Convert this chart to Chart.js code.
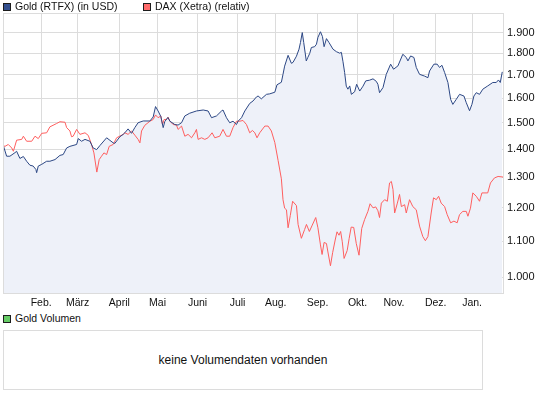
<!DOCTYPE html>
<html>
<head>
<meta charset="utf-8">
<script src="https://cdn.jsdelivr.net/npm/chart.js@4/dist/chart.umd.min.js"></script>
<style>
  html, body { margin: 0; padding: 0; background: #fff; }
  #wrap { position: relative; width: 545px; height: 398px; overflow: hidden;
          font-family: "Liberation Sans", Arial, sans-serif; color: #111; }
  #main { position: absolute; left: 0; top: 0; display: block; }
  .leg { position: absolute; font-size: 10.5px; line-height: 13px; white-space: nowrap; color: #111; }
  .sw { position: absolute; width: 6px; height: 6px; border: 1px solid #1c1c1c; }
  #vol { position: absolute; left: 3px; top: 330px; width: 478px; height: 58px;
         border: 1px solid #dcdcdc; font-size: 12px; line-height: 58px; text-align: center; color: #111; }
</style>
</head>
<body>
<div id="wrap">
  <canvas id="main" width="545" height="312"></canvas>
  <div class="sw" style="left:3px;top:3px;background:#34508f"></div>
  <div class="leg" id="leg0" style="left:15px;top:0px"></div>
  <div class="sw" style="left:143px;top:3px;background:#ff6b6b"></div>
  <div class="leg" id="leg1" style="left:155px;top:0px"></div>
  <div class="sw" style="left:3px;top:315px;background:#66cc66"></div>
  <div class="leg" id="leg2" style="left:15px;top:312px"></div>
  <div id="vol"></div>
</div>
<script>
// ---- data ----
const seriesNames = ["Gold (RTFX) (in USD)", "DAX (Xetra) (relativ)"];
const volumeName = "Gold Volumen";
const volumeMessage = "keine Volumendaten vorhanden";

// x = trading-day index (0 = first trading day of January)
const monthLabels = ["Feb.", "März", "April", "Mai", "Juni", "Juli", "Aug.", "Sep.", "Okt.", "Nov.", "Dez.", "Jan."];
const monthStarts = [21, 41, 64, 85, 107, 129, 150, 173, 195, 215, 238, 258];
const yTicks = [1000, 1100, 1200, 1300, 1400, 1500, 1600, 1700, 1800, 1900];

const goldDays = [
  0, 2.0, 3.8, 6.6, 7.5, 9.3, 11.2, 13.0, 14.8, 16.6,
  18.1, 18.5, 19.4, 21.3, 24.0, 25.8, 28.6, 31.3, 33.1, 35.0,
  36.8, 40.5, 41.4, 43.2, 45.1, 47.8, 49.6, 51.5, 53.3, 57.0,
  60.6, 61.5, 64.3, 66.1, 67.0, 68.8, 70.7, 72.5, 74.3, 77.1,
  80.8, 82.6, 83.9, 85.3, 86.8, 88.1, 89.0, 90.7, 91.8, 94.5,
  96.3, 98.2, 100.0, 102.7, 106.4, 110.1, 112.8, 114.7, 117.4, 120.2,
  121.0, 122.9, 124.7, 126.5, 128.4, 129.3, 131.2, 133.0, 135.7, 137.5,
  139.4, 140.3, 142.1, 144.9, 146.7, 149.5, 150.7, 153.1, 154.0, 154.9,
  156.8, 158.6, 159.5, 161.4, 162.8, 163.6, 164.6, 165.4, 166.8, 167.7,
  168.7, 169.6, 171.4, 172.4, 173.2, 174.6, 175.7, 176.6, 177.9, 179.3,
  181.5, 183.4, 185.2, 186.1, 187.0, 187.9, 188.8, 189.7, 190.7, 191.6,
  193.4, 194.5, 196.2, 198.0, 199.5, 201.6, 203.5, 205.3, 206.2, 207.1,
  209.0, 210.8, 213.2, 214.8, 217.2, 219.9, 221.8, 222.7, 224.2, 226.0,
  227.3, 229.1, 231.9, 233.7, 234.6, 237.0, 238.8, 240.1, 241.4, 242.9,
  244.7, 246.2, 247.4, 249.3, 251.1, 253.5, 254.8, 256.6, 257.9, 259.0,
  260.3, 262.1, 263.9, 266.6, 269.4, 271.3, 272.5, 273.5, 274.6
];
const goldValues = [
  1417, 1374, 1374, 1387, 1392, 1366, 1373, 1356, 1342, 1339,
  1327, 1316, 1339, 1345, 1356, 1356, 1362, 1377, 1380, 1404,
  1410, 1417, 1439, 1429, 1436, 1429, 1404, 1398, 1413, 1442,
  1423, 1421, 1446, 1455, 1461, 1476, 1459, 1481, 1500, 1507,
  1507, 1523, 1565, 1547, 1525, 1481, 1505, 1521, 1506, 1493,
  1491, 1500, 1527, 1538, 1547, 1551, 1547, 1520, 1527, 1547,
  1551, 1520, 1500, 1506, 1493, 1506, 1520, 1547, 1578, 1588,
  1605, 1609, 1597, 1616, 1618, 1625, 1657, 1668, 1703, 1740,
  1790, 1753, 1757, 1786, 1819, 1851, 1900, 1851, 1764, 1781,
  1799, 1827, 1831, 1843, 1876, 1904, 1880, 1831, 1870, 1851,
  1819, 1807, 1800, 1804, 1760, 1711, 1651, 1638, 1652, 1616,
  1627, 1659, 1630, 1651, 1674, 1677, 1683, 1672, 1659, 1623,
  1645, 1703, 1749, 1726, 1741, 1795, 1780, 1764, 1787, 1780,
  1734, 1703, 1695, 1688, 1718, 1749, 1749, 1734, 1744, 1711,
  1667, 1595, 1574, 1595, 1616, 1609, 1581, 1548, 1574, 1609,
  1623, 1616, 1638, 1652, 1667, 1667, 1678, 1667, 1714
];

const daxDays = [
  0, 1.1, 2.9, 4.8, 5.7, 7.5, 10.3, 11.2, 13.0, 15.8,
  17.6, 19.4, 21.3, 24.0, 25.8, 29.5, 31.3, 34.1, 35.0, 36.8,
  37.7, 38.6, 40.5, 42.3, 45.1, 46.9, 48.7, 50.0, 51.6, 52.9,
  54.2, 55.5, 57.0, 58.4, 60.6, 62.5, 66.1, 67.0, 68.8, 70.7,
  72.5, 74.3, 75.3, 76.2, 78.0, 80.8, 82.6, 83.9, 85.3, 86.8,
  87.7, 88.6, 89.9, 90.8, 91.8, 93.6, 95.4, 96.3, 98.2, 100.0,
  101.8, 103.7, 105.5, 106.4, 107.3, 109.2, 111.0, 112.8, 115.0, 116.5,
  119.2, 121.0, 122.9, 124.7, 126.5, 128.4, 130.2, 132.0, 133.9, 135.7,
  137.2, 138.5, 139.7, 141.2, 144.0, 145.8, 147.6, 149.5, 151.3, 153.1,
  154.0, 154.9, 155.9, 156.8, 158.0, 159.3, 161.4, 162.3, 164.1, 165.9,
  166.9, 168.5, 170.1, 172.0, 173.2, 174.6, 175.5, 176.6, 177.9, 178.7,
  180.1, 181.3, 182.7, 183.7, 184.8, 185.7, 186.6, 187.6, 189.3, 190.4,
  191.5, 192.9, 194.3, 195.8, 197.3, 198.9, 200.7, 201.9, 203.5, 205.0,
  206.2, 207.1, 208.1, 209.9, 211.4, 212.6, 213.6, 214.5, 215.4, 216.9,
  218.1, 219.1, 220.9, 221.8, 223.6, 225.4, 227.3, 229.1, 230.9, 232.3,
  233.7, 235.5, 236.8, 238.3, 239.6, 241.0, 242.9, 244.3, 246.2, 248.0,
  249.8, 251.1, 252.9, 254.8, 255.7, 257.1, 258.4, 260.3, 262.1, 263.4,
  266.6, 268.1, 270.3, 272.3, 275.0
];
const daxValues = [
  1413, 1410, 1417, 1404, 1392, 1433, 1436, 1448, 1429, 1429,
  1448, 1439, 1459, 1461, 1484, 1497, 1504, 1502, 1481, 1468,
  1446, 1448, 1474, 1455, 1461, 1451, 1417, 1386, 1318, 1362,
  1374, 1386, 1380, 1410, 1417, 1442, 1455, 1461, 1455, 1468,
  1452, 1436, 1423, 1468, 1490, 1506, 1513, 1531, 1520, 1527,
  1493, 1513, 1513, 1522, 1506, 1493, 1491, 1474, 1487, 1448,
  1455, 1442, 1461, 1474, 1436, 1442, 1436, 1442, 1461, 1442,
  1448, 1474, 1448, 1448, 1481, 1506, 1506, 1509, 1493, 1461,
  1470, 1461, 1442, 1461, 1487, 1487, 1468, 1424, 1359, 1295,
  1226, 1199, 1194, 1139, 1176, 1221, 1207, 1149, 1108, 1134,
  1149, 1128, 1147, 1170, 1139, 1089, 1062, 1096, 1093, 1069,
  1031, 1067, 1103, 1127, 1117, 1128, 1098, 1051, 1073, 1108,
  1141, 1140, 1093, 1060, 1137, 1164, 1189, 1213, 1200, 1203,
  1191, 1170, 1215, 1226, 1221, 1281, 1286, 1259, 1184, 1215,
  1243, 1204, 1210, 1184, 1226, 1204, 1194, 1144, 1113, 1101,
  1113, 1184, 1232, 1226, 1237, 1215, 1204, 1179, 1154, 1159,
  1154, 1179, 1189, 1189, 1174, 1199, 1248, 1237, 1221, 1248,
  1248, 1281, 1298, 1303, 1301
];

// ---- helpers ----
const toPoints = (xs, ys) => xs.map((x, i) => ({ x: x, y: ys[i] }));
const fmtDE = v => String(Math.round(v)).replace(/\B(?=(\d{3})+(?!\d))/g, '.');

document.getElementById('leg0').textContent = seriesNames[0];
document.getElementById('leg1').textContent = seriesNames[1];
document.getElementById('leg2').textContent = volumeName;
document.getElementById('vol').textContent = volumeMessage;

const GRID = '#dcdcdc';
const FONT_X = { family: '"Liberation Sans", Arial, sans-serif', size: 10.5 };
const FONT_Y = { family: '"Liberation Sans", Arial, sans-serif', size: 11 };

const framePlugin = {
  id: 'frame',
  afterDraw(chart) {
    const a = chart.chartArea, ctx = chart.ctx;
    ctx.save();
    ctx.strokeStyle = GRID;
    ctx.lineWidth = 1;
    ctx.strokeRect(a.left + 0.5, a.top + 0.5, a.right - a.left, a.bottom - a.top);
    ctx.restore();
  }
};

new Chart(document.getElementById('main'), {
  type: 'line',
  data: {
    datasets: [
      {
        label: seriesNames[0],
        data: toPoints(goldDays, goldValues),
        borderColor: '#2c4784',
        backgroundColor: '#eef1f9',
        fill: 'start',
        borderWidth: 1,
        pointRadius: 0,
        tension: 0
      },
      {
        label: seriesNames[1],
        data: toPoints(daxDays, daxValues),
        borderColor: '#ff5f5f',
        backgroundColor: '#ff6b6b',
        fill: false,
        borderWidth: 1,
        pointRadius: 0,
        tension: 0
      }
    ]
  },
  options: {
    responsive: false,
    animation: false,
    devicePixelRatio: 1,
    layout: { padding: { left: 3, top: 13, right: 0, bottom: 0 } },
    plugins: {
      legend: { display: false },
      tooltip: { enabled: false },
      filler: { drawTime: 'beforeDatasetsDraw' }
    },
    scales: {
      x: {
        type: 'linear',
        min: 0,
        max: 275,
        bounds: 'data',
        grid: { color: GRID, drawTicks: false },
        border: { color: GRID },
        ticks: {
          padding: 4,
          autoSkip: false,
          maxRotation: 0,
          color: '#111',
          font: FONT_X,
          callback: v => { const i = monthStarts.indexOf(v); return i < 0 ? '' : monthLabels[i]; }
        },
        afterBuildTicks: s => { s.ticks = monthStarts.map(v => ({ value: v })); },
        afterFit: s => { s.height = 19; }
      },
      y: {
        type: 'logarithmic',
        position: 'right',
        min: 960,
        max: 2000,
        bounds: 'data',
        grid: { color: GRID, drawTicks: false },
        border: { color: GRID },
        ticks: {
          padding: 4,
          color: '#111',
          font: FONT_Y,
          callback: v => fmtDE(v)
        },
        afterBuildTicks: s => { s.ticks = yTicks.map(v => ({ value: v })); },
        afterFit: s => { s.width = 42; }
      }
    }
  },
  plugins: [framePlugin]
});
</script>
</body>
</html>
